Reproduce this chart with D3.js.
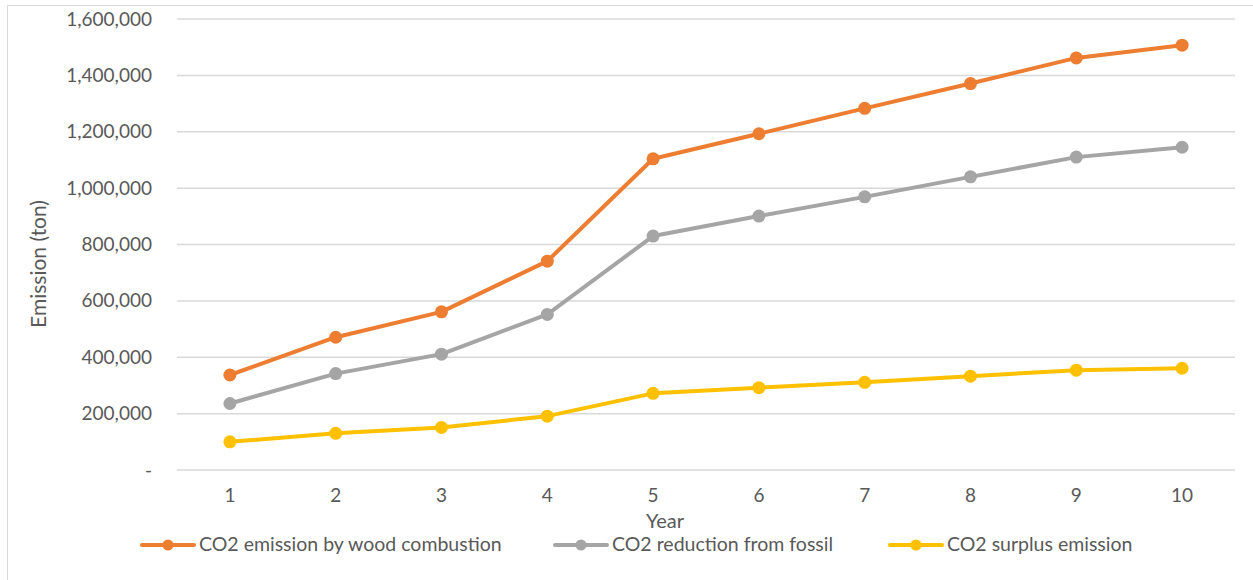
<!DOCTYPE html>
<html>
<head>
<meta charset="utf-8">
<script src="https://cdn.jsdelivr.net/npm/d3@7"></script>
<style>
  html, body { margin: 0; padding: 0; background: #fff; }
  svg { display: block; font-family: Lato, "Open Sans", sans-serif; }
</style>
</head>
<body>
<svg id="chart" width="1253" height="580"></svg>
<script>
// Years on the x axis
const years = [1, 2, 3, 4, 5, 6, 7, 8, 9, 10];
// Emission series in tons
const woodCombustion = [337000, 471000, 561000, 741000, 1104000, 1193000, 1283000, 1371000, 1462000, 1507000];
const fossilReduction = [236000, 342000, 411000, 552000, 830000, 901000, 969000, 1040000, 1110000, 1145000];
const surplusEmission = [100000, 130000, 151000, 191000, 272000, 292000, 311000, 333000, 354000, 361000];
const yTicks = [0, 200000, 400000, 600000, 800000, 1000000, 1200000, 1400000, 1600000];

const series = [
  { name: "CO2 emission by wood combustion", values: woodCombustion, color: "#ED7D31" },
  { name: "CO2 reduction from fossil", values: fossilReduction, color: "#A5A5A5" },
  { name: "CO2 surplus emission", values: surplusEmission, color: "#FFC000" }
];

const svg = d3.select("#chart");

// chart frame
svg.append("rect")
  .attr("x", 7.5).attr("y", 5.5)
  .attr("width", 1260).attr("height", 600)
  .attr("fill", "none").attr("stroke", "#D9D9D9").attr("stroke-width", 1);

const plot = { left: 177, right: 1235, top: 19, bottom: 470 };

const x = d3.scaleBand().domain(years).range([plot.left, plot.right]);
const y = d3.scaleLinear().domain([0, 1600000]).range([plot.bottom, plot.top]);

const fmt = v => v === 0 ? "-" : d3.format(",")(v);

// gridlines
svg.append("g")
  .selectAll("line")
  .data(yTicks)
  .join("line")
  .attr("x1", plot.left).attr("x2", plot.right)
  .attr("y1", d => y(d)).attr("y2", d => y(d))
  .attr("stroke", "#D9D9D9").attr("stroke-width", 1.5);

// y axis labels
const yAxis = svg.append("g")
  .attr("transform", `translate(${plot.left - 8},0)`)
  .call(d3.axisLeft(y).tickValues(yTicks).tickFormat(fmt).tickSize(0).tickPadding(17));
yAxis.select(".domain").remove();
yAxis.selectAll("text")
  .attr("fill", "#595959")
  .style("font-size", "19px")
  .style("font-family", "Lato, 'Open Sans', sans-serif");

// x axis labels
const xAxis = svg.append("g")
  .attr("transform", `translate(0,${plot.bottom})`)
  .call(d3.axisBottom(x).tickSize(0).tickPadding(19));
xAxis.select(".domain").remove();
xAxis.selectAll("text")
  .attr("fill", "#595959")
  .style("font-size", "19px")
  .style("font-family", "Lato, 'Open Sans', sans-serif");

// axis titles
svg.append("text")
  .attr("x", (plot.left + plot.right) / 2 - 41)
  .attr("y", 528)
  .attr("text-anchor", "middle")
  .attr("fill", "#595959")
  .style("font-size", "20px")
  .text("Year");

svg.append("text")
  .attr("transform", `translate(46,264) rotate(-90)`)
  .attr("text-anchor", "middle")
  .attr("fill", "#595959")
  .style("font-size", "21px")
  .text("Emission (ton)");

// series lines and markers
const cx = i => x(years[i]) + x.bandwidth() / 2;
const line = d3.line().x((d, i) => cx(i)).y(d => y(d));

series.forEach(s => {
  const g = svg.append("g");
  g.append("path")
    .datum(s.values)
    .attr("d", line)
    .attr("fill", "none")
    .attr("stroke", s.color)
    .attr("stroke-width", 4)
    .attr("stroke-linejoin", "round");
  g.selectAll("circle")
    .data(s.values)
    .join("circle")
    .attr("cx", (d, i) => cx(i))
    .attr("cy", d => y(d))
    .attr("r", 6.5)
    .attr("fill", s.color);
});

// legend
const legendX = [140, 553, 888];
const legend = svg.append("g").attr("transform", "translate(0,545)");
series.forEach((s, i) => {
  const g = legend.append("g").attr("transform", `translate(${legendX[i]},0)`);
  g.append("line")
    .attr("x1", 2).attr("x2", 54)
    .attr("stroke", s.color).attr("stroke-width", 4).attr("stroke-linecap", "round");
  g.append("circle").attr("cx", 28).attr("r", 5.5).attr("fill", s.color);
  g.append("text")
    .attr("x", 59).attr("y", 6)
    .attr("fill", "#595959")
    .style("font-size", "19.5px")
    .text(s.name);
});
</script>
</body>
</html>
